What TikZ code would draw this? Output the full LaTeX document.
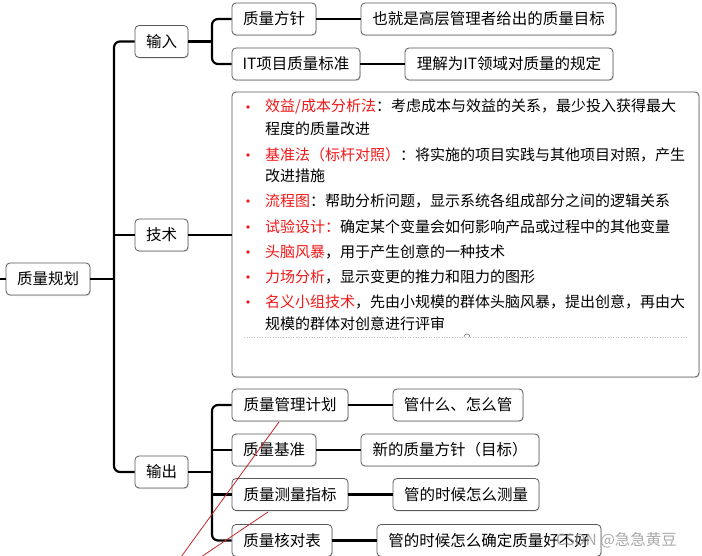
\documentclass[tikz,border=0pt]{standalone}
\usepackage{fontspec}
\newfontfamily\cjk{Noto Sans CJK SC}
\usetikzlibrary{shadows}
\definecolor{kred}{HTML}{F21818}
\definecolor{lred}{HTML}{C0282C}
\tikzset{
  box/.style={draw=black!65, line width=0.8pt, rounded corners=4pt, fill=white,
    minimum height=32pt, inner sep=0pt, font=\cjk\fontsize{15.5}{18}\selectfont,
    drop shadow={shadow xshift=0.8pt, shadow yshift=-1.2pt, opacity=0.22}},
  conn/.style={draw=black, line width=2.2pt},
  ln/.style={anchor=west, inner sep=0pt, font=\cjk\fontsize{15}{18}\selectfont},
  bul/.style={circle, fill=kred, inner sep=0pt, minimum size=3.6pt},
}
\begin{document}
\begin{tikzpicture}[x=1pt,y=-1pt]
\useasboundingbox (0,0) rectangle (702,556);
% nodes
\node[box, minimum width=84pt] (root) at (48,279) {质量规划};
\node[box, minimum width=53pt] (in) at (161.5,41.5) {输入};
\node[box, minimum width=53pt] (tech) at (161.5,235) {技术};
\node[box, minimum width=53pt] (out) at (161.5,472) {输出};
\node[box, minimum width=84pt] (fz) at (274,19) {质量方针};
\node[box, minimum width=128pt] (it) at (296,64) {IT项目质量标准};
\node[box, minimum width=255pt] (fzd) at (488.5,19) {也就是高层管理者给出的质量目标};
\node[box, minimum width=208pt] (itd) at (509,64) {理解为IT领域对质量的规定};
\node[box, minimum width=467pt, minimum height=285pt] (big) at (465.5,234.5) {};
\node[box, minimum width=116pt] (p1) at (290,405) {质量管理计划};
\node[box, minimum width=84pt] (p2) at (274,450) {质量基准};
\node[box, minimum width=116pt] (p3) at (290,494.5) {质量测量指标};
\node[box, minimum width=100pt] (p4) at (282,540.5) {质量核对表};
\node[box, minimum width=130pt] (d1) at (458,405) {管什么、怎么管};
\node[box, minimum width=178pt] (d2) at (450,450) {新的质量方针（目标）};
\node[box, minimum width=146pt] (d3) at (466,494.5) {管的时候怎么测量};
\node[box, minimum width=224pt] (d4) at (489,540.5) {管的时候怎么确定质量好不好};
% big box text
\node[bul] (u1) at (248,107) {};
\node[ln] (l1) at (265,107) {\textcolor{kred}{效益/成本分析法}：考虑成本与效益的关系，最少投入获得最大};
\node[ln] (l2) at (265,129) {程度的质量改进};
\node[bul] (u2) at (248,155) {};
\node[ln] (l3) at (265,155) {\textcolor{kred}{基准法（标杆对照）}：将实施的项目实践与其他项目对照，产生};
\node[ln] (l4) at (265,176) {改进措施};
\node[bul] (u3) at (248,201) {};
\node[ln] (l5) at (265,201) {\textcolor{kred}{流程图}：帮助分析问题，显示系统各组成部分之间的逻辑关系};
\node[bul] (u4) at (248,227) {};
\node[ln] (l6) at (265,227) {\textcolor{kred}{试验设计：}确定某个变量会如何影响产品或过程中的其他变量};
\node[bul] (u5) at (248,252) {};
\node[ln] (l7) at (265,252) {\textcolor{kred}{头脑风暴}，用于产生创意的一种技术};
\node[bul] (u6) at (248,277) {};
\node[ln] (l8) at (265,277) {\textcolor{kred}{力场分析}，显示变更的推力和阻力的图形};
\node[bul] (u7) at (248,302) {};
\node[ln] (l9) at (265,302) {\textcolor{kred}{名义小组技术}，先由小规模的群体头脑风暴，提出创意，再由大};
\node[ln] (l10) at (265,324) {规模的群体对创意进行评审};
\coordinate (dl1) at (244,337);
\coordinate (dl2) at (688,337);
\draw[black!25, dotted, line width=0.6pt] (dl1) -- (dl2);
\coordinate (arc) at (470,337);
\draw[black!55, line width=0.6pt] (arc) arc[start angle=0, end angle=180, radius=3pt];
% connectors
\coordinate (stub) at (0,279);
\coordinate (tr) at (114,279);
\coordinate (b1) at (212,41.5);
\coordinate (b2) at (212,472);
\draw[conn] (stub) -- (root.west);
\draw[conn] (root.east) -- (tr);
\draw[conn, rounded corners=6pt] (in.west) -| (tr) |- (out.west);
\draw[conn] (tech.west) -- (tech.west -| tr);
\draw[conn] (in.east) -- (b1);
\draw[conn, rounded corners=6pt] (fz.west) -| (b1) |- (it.west);
\draw[conn] (tech.east) -- (big.west |- tech.east);
\draw[conn] (fz.east) -- (fzd.west);
\draw[conn] (it.east) -- (itd.west);
\draw[conn] (out.east) -- (b2);
\draw[conn, rounded corners=6pt] (p1.west) -| (b2) |- (p4.west);
\draw[conn] (p2.west) -- (p2.west -| b2);
\draw[conn] (p3.west) -- (p3.west -| b2);
\draw[conn] (p1.east) -- (d1.west);
\draw[conn] (p2.east) -- (d2.west);
\draw[conn] (p3.east) -- (d3.west);
\draw[conn] (p4.east) -- (d4.west);
% red annotation lines
\coordinate (ra1) at (279,422);
\coordinate (ra2) at (181,557);
\coordinate (rb1) at (268,512);
\coordinate (rb2) at (201,557);
\draw[lred, line width=0.8pt] (ra1) -- (ra2);
\draw[lred, line width=0.8pt] (rb1) -- (rb2);
% watermark
\node[anchor=west, inner sep=0pt, text=black!40, opacity=0.85, font=\cjk\fontsize{15.5}{18}\selectfont] (wm) at (556,540) {CSDN @急急黄豆};
\end{tikzpicture}
\end{document}
